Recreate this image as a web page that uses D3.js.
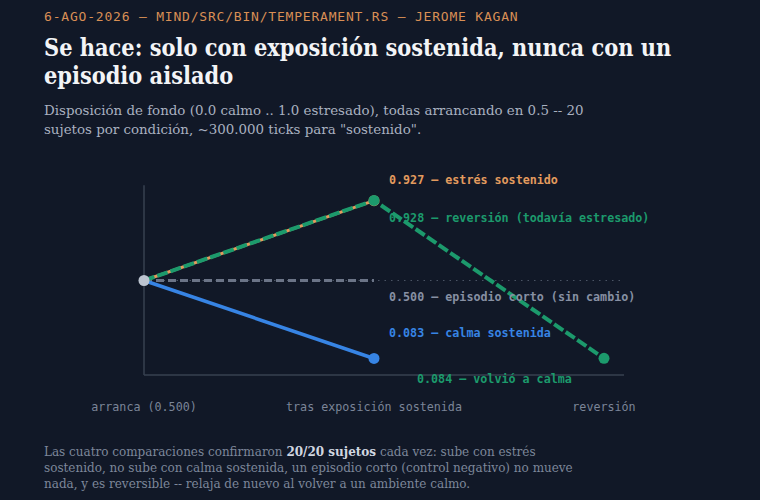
<!DOCTYPE html>
<html>
<head>
<meta charset="utf-8">
<script src="https://cdn.jsdelivr.net/npm/d3@7"></script>
<style>
  html, body { margin: 0; padding: 0; background: #111827; }
  svg { display: block; }
  .mono { font-family: "DejaVu Sans Mono", monospace; }
  .serif { font-family: "DejaVu Serif", serif; }
  .titulo { font-family: "DejaVu Serif Condensed", "DejaVu Serif", serif; font-stretch: condensed; }
</style>
</head>
<body>
<div id="grafico"></div>
<script>
// disposicion de fondo por condicion: todas arrancan en 0.5 y se ve a donde van
var etapas = ["arranca (0.500)", "tras exposición sostenida", "reversión"];

var estresSostenido = [0.5, 0.927];
var calmaSostenida = [0.5, 0.083];
var episodioCorto = [0.5, 0.5];
var reversion = [0.5, 0.928, 0.084];

var etiquetas = [
  "0.927 — estrés sostenido",
  "0.928 — reversión (todavía estresado)",
  "0.500 — episodio corto (sin cambio)",
  "0.083 — calma sostenida",
  "0.084 — volvió a calma"
];

var ANCHO = 760, ALTO = 500;
var NARANJA = "#e39b5e", VERDE = "#1c9a6c", AZUL = "#3784e4", GRIS = "#6b7487";
var TEXTO_GRIS = "#8790a3";

var svg = d3.select("#grafico").append("svg")
  .attr("width", ANCHO)
  .attr("height", ALTO);

// encabezado
svg.append("text")
  .attr("class", "mono")
  .attr("x", 44).attr("y", 21)
  .attr("fill", "#d98f55")
  .attr("font-size", 13)
  .attr("letter-spacing", 0.8)
  .text("6-AGO-2026 — MIND/SRC/BIN/TEMPERAMENT.RS — JEROME KAGAN");

var titulo = svg.append("text")
  .attr("class", "titulo")
  .attr("x", 44).attr("y", 56)
  .attr("fill", "#f3f4f6")
  .attr("font-size", 23.3)
  .attr("font-weight", "bold");
["Se hace: solo con exposición sostenida, nunca con un", "episodio aislado"].forEach(function (l, i) {
  titulo.append("tspan").attr("x", 44).attr("dy", i ? 28 : 0).text(l);
});

var sub = svg.append("text")
  .attr("class", "serif")
  .attr("x", 44).attr("y", 115)
  .attr("fill", "#a9b1c0")
  .attr("font-size", 13.4);
["Disposición de fondo (0.0 calmo .. 1.0 estresado), todas arrancando en 0.5 -- 20",
 "sujetos por condición, ~300.000 ticks para \"sostenido\"."].forEach(function (l, i) {
  sub.append("tspan").attr("x", 44).attr("dy", i ? 19 : 0).text(l);
});

// escalas
var x = d3.scalePoint().domain(etapas).range([144, 604]);
var y = d3.scaleLinear().domain([0, 1]).range([374, 187]);

// ejes simples: una linea vertical y una horizontal
svg.append("line")
  .attr("x1", x(etapas[0])).attr("x2", x(etapas[0]))
  .attr("y1", y(1.01)).attr("y2", y(0) + 1)
  .attr("stroke", "#374151").attr("stroke-width", 1.5);
svg.append("line")
  .attr("x1", x(etapas[0])).attr("x2", x(etapas[2]) + 20)
  .attr("y1", y(0) + 1).attr("y2", y(0) + 1)
  .attr("stroke", "#374151").attr("stroke-width", 1.5);

// referencia punteada en 0.5
svg.append("line")
  .attr("x1", x(etapas[0])).attr("x2", x(etapas[2]) + 16)
  .attr("y1", y(0.5)).attr("y2", y(0.5))
  .attr("stroke", "#4b5465").attr("stroke-width", 1.2)
  .attr("stroke-dasharray", "1.5 5");

svg.append("g").selectAll("text")
  .data(etapas)
  .enter().append("text")
  .attr("class", "mono")
  .attr("x", function (d) { return x(d); })
  .attr("y", 411)
  .attr("text-anchor", "middle")
  .attr("font-size", 11.7)
  .attr("fill", "#7b8598")
  .text(function (d) { return d; });

var linea = d3.line()
  .x(function (d, i) { return x(etapas[i]); })
  .y(function (d) { return y(d); });

// episodio corto
svg.append("path")
  .attr("d", linea(episodioCorto))
  .attr("fill", "none")
  .attr("stroke", GRIS).attr("stroke-width", 3)
  .attr("stroke-dasharray", "8 4");

// calma sostenida
svg.append("path")
  .attr("d", linea(calmaSostenida))
  .attr("fill", "none")
  .attr("stroke", AZUL).attr("stroke-width", 3.5);

// estres sostenido, queda debajo de la reversion
svg.append("path")
  .attr("d", linea(estresSostenido))
  .attr("fill", "none")
  .attr("stroke", NARANJA).attr("stroke-width", 3);

svg.append("path")
  .attr("d", linea(reversion))
  .attr("fill", "none")
  .attr("stroke", VERDE).attr("stroke-width", 4)
  .attr("stroke-dasharray", "11 3");

// puntos finales
var puntos = [
  { i: 1, v: calmaSostenida[1], c: AZUL },
  { i: 1, v: estresSostenido[1], c: NARANJA },
  { i: 1, v: reversion[1], c: VERDE },
  { i: 2, v: reversion[2], c: VERDE },
  { i: 0, v: reversion[0], c: "#bcc4d0" }
];
svg.append("g").selectAll("circle")
  .data(puntos)
  .enter().append("circle")
  .attr("cx", function (d) { return x(etapas[d.i]); })
  .attr("cy", function (d) { return y(d.v); })
  .attr("r", 5.5)
  .attr("fill", function (d) { return d.c; });

// etiquetas al lado de cada serie
var notas = [
  { t: etiquetas[0], v: estresSostenido[1], i: 1, dx: 15, dy: -17, c: NARANJA },
  { t: etiquetas[1], v: reversion[1], i: 1, dx: 15, dy: 22, c: VERDE },
  { t: etiquetas[2], v: episodioCorto[1], i: 1, dx: 15, dy: 20, c: TEXTO_GRIS },
  { t: etiquetas[3], v: calmaSostenida[1], i: 1, dx: 15, dy: -21, c: AZUL },
  { t: etiquetas[4], v: reversion[2], i: 2, dx: -187, dy: 25, c: VERDE }
];
svg.append("g").selectAll("text")
  .data(notas)
  .enter().append("text")
  .attr("class", "mono")
  .attr("x", function (d) { return x(etapas[d.i]) + d.dx; })
  .attr("y", function (d) { return y(d.v) + d.dy; })
  .attr("font-size", 11.7)
  .attr("font-weight", "bold")
  .attr("fill", function (d) { return d.c; })
  .text(function (d) { return d.t; });

// nota al pie
var pie = svg.append("text")
  .attr("class", "serif")
  .attr("x", 44).attr("y", 456)
  .attr("fill", "#7d879a")
  .attr("font-size", 12);
var l1 = pie.append("tspan").attr("x", 44);
l1.append("tspan").text("Las cuatro comparaciones confirmaron ");
l1.append("tspan").attr("font-weight", "bold").attr("fill", "#d0d6e0").text("20/20 sujetos");
l1.append("tspan").text(" cada vez: sube con estrés");
pie.append("tspan").attr("x", 44).attr("dy", 16)
  .text("sostenido, no sube con calma sostenida, un episodio corto (control negativo) no mueve");
pie.append("tspan").attr("x", 44).attr("dy", 16)
  .text("nada, y es reversible -- relaja de nuevo al volver a un ambiente calmo.");
</script>
</body>
</html>
